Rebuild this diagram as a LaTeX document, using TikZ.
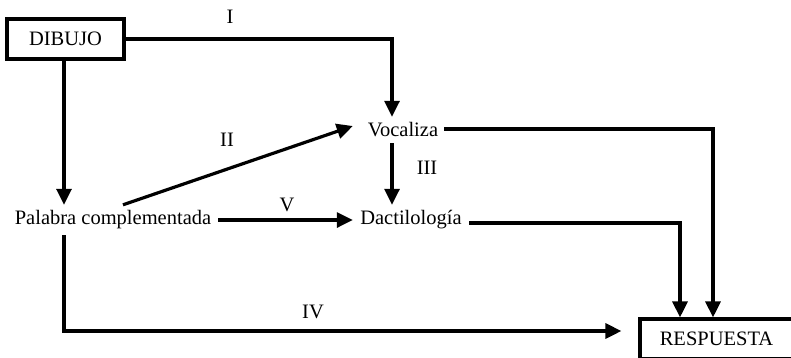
\documentclass[tikz,border=0pt]{standalone}
\usepackage{fontspec}
\setmainfont{Liberation Serif}
\usetikzlibrary{arrows.meta,calc}
\begin{document}
\begin{tikzpicture}[x=1pt,y=-1pt,
  every node/.style={font=\fontsize{20.5}{24}\selectfont, inner sep=0pt},
  boxnode/.style={draw, line width=3.2pt, minimum height=40pt},
  txt/.style={minimum height=30pt},
  conn/.style={line width=3.2pt, -{Triangle[length=16pt,width=15pt]}},
  lbl/.style={}]
\useasboundingbox (0,0) rectangle (791,357);
\node[boxnode, minimum width=117pt] (dib) at (65.5,39) {DIBUJO};
\node[boxnode, minimum width=153pt] (resp) at (716.5,339) {RESPUESTA};
\node[txt, minimum width=100pt, minimum height=26pt] (voc) at (403,130) {Vocaliza};
\node[txt, minimum width=210pt] (pal) at (113,220) {Palabra complementada};
\node[txt, minimum width=116pt] (dac) at (411,220) {Dactilología};
\coordinate (dibS) at ($(dib.south)+(-1.5,0)$);
\coordinate (vocN) at ($(voc.north)+(-11,0)$);
\coordinate (vocS) at ($(voc.south)+(-11,0)$);
\coordinate (vocW) at ($(voc.west)+(0,-4)$);
\coordinate (vocE) at ($(voc.east)+(-9,-1)$);
\coordinate (palN) at ($(pal.north)+(10,0)$);
\coordinate (palS) at ($(pal.south)+(-49,0)$);
\coordinate (dacE) at ($(dac.east)+(0,3)$);
\coordinate (respA) at ($(resp.north)+(-36.5,0)$);
\coordinate (respB) at ($(resp.north)+(-3.5,0)$);
\coordinate (respW) at ($(resp.west)+(-17,-8)$);
% I
\draw[conn] (dib.east) -| (vocN);
\node[lbl] (lI) at (230,17) {I};
% DIBUJO -> Palabra
\draw[conn] (dibS) -- (dibS |- pal.north);
% II
\draw[conn] (palN) -- (vocW);
\node[lbl] (lII) at (227,140) {II};
% III
\draw[conn] (vocS) -- (vocS |- dac.north);
\node[lbl] (lIII) at (427,168) {III};
% V
\draw[conn] (pal.east) -- (dac.west);
\node[lbl] (lV) at (287,205) {V};
% Vocaliza -> RESPUESTA
\draw[conn] (vocE) -| (respB);
% Dactilologia -> RESPUESTA
\draw[conn] (dacE) -| (respA);
% IV
\draw[conn] (palS) |- (respW);
\node[lbl] (lIV) at (313,312) {IV};
\end{tikzpicture}
\end{document}
